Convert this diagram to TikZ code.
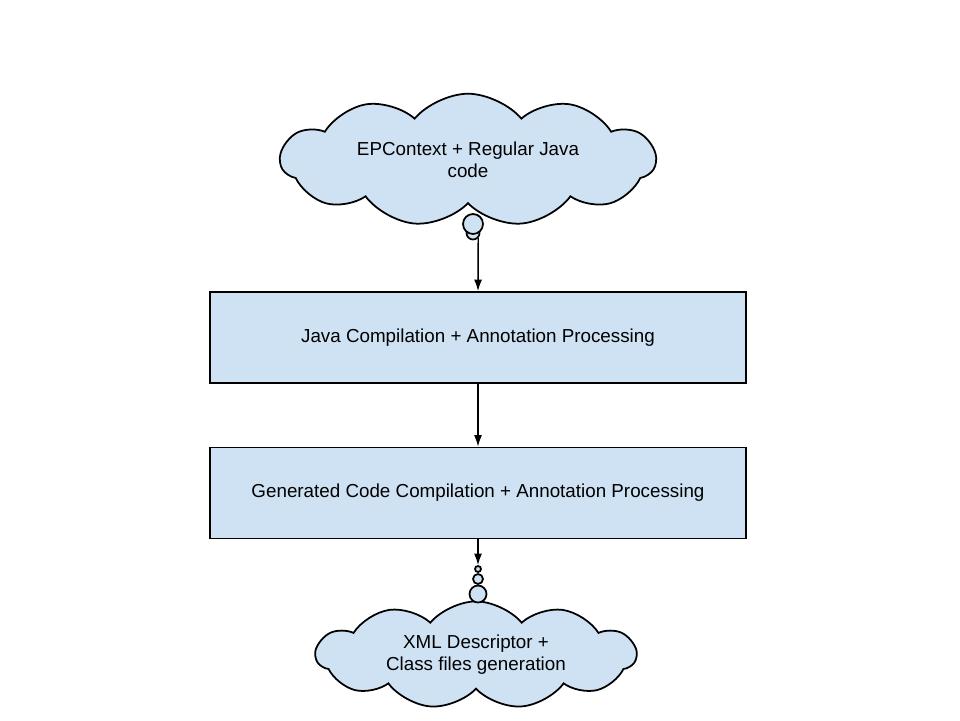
\documentclass[tikz,border=0pt]{standalone}
\usepackage{fontspec}
\setmainfont{Liberation Sans}
\usetikzlibrary{shapes.symbols,arrows.meta}
\definecolor{paleblue}{HTML}{CFE2F3}

\begin{document}
\begin{tikzpicture}[x=0.02cm,y=-0.02cm,
		every node/.style={font=\fontsize{10.7}{12.5}\selectfont},
		stepbox/.style={draw,line width=1pt,fill=paleblue,minimum width=10.72cm,minimum height=1.82cm},
		thought/.style={cloud,cloud puffs=11,cloud puff arc=100,aspect=3.3,draw,line width=1pt,fill=paleblue,align=center,inner sep=0pt},
		bubble/.style={circle,draw,line width=1pt,fill=paleblue,inner sep=0pt},
		arr/.style={-{Latex[length=6.5pt,width=4.5pt]},line width=0.8pt}]
	\useasboundingbox (0,0) rectangle (960,720);
	% clouds
	\node[thought,minimum width=7.5cm,minimum height=2.3cm] (src) at (468,160) {EPContext + Regular Java\\code};
	\node[thought,minimum width=6.4cm,minimum height=1.75cm] (out) at (476,655) {XML Descriptor +\\Class files generation};
	% steps
	\node[stepbox] (java) at (478,337.5) {Java Compilation + Annotation Processing};
	\node[stepbox] (gen) at (478,493) {Generated Code Compilation + Annotation Processing};
	% bubbles of the top cloud
	\node[bubble,minimum size=0.26cm] (t2) at (473,233) {};
	\node[bubble,minimum size=0.4cm] (t1) at (473,224) {};
	% bubbles of the bottom cloud
	\node[bubble,minimum size=0.12cm] (c1) at (478,569) {};
	\node[bubble,minimum size=0.2cm] (c2) at (478,579) {};
	\node[bubble,minimum size=0.34cm] (c3) at (478,594) {};
	% connectors
	\draw[arr] (t2.south east) -- (java.north);
	\draw[arr] (java) -- (gen);
	\draw[arr] (gen.south) -- (c1.north);
\end{tikzpicture}
\end{document}
